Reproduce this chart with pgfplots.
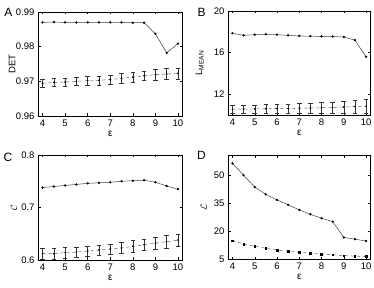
\documentclass[border=0pt]{standalone}
\usepackage{fontspec}
\setmainfont{Liberation Sans}
\usepackage{pgfplots}
\pgfplotsset{compat=1.18}
\begin{document}
\begin{tikzpicture}
\useasboundingbox (0pt,0pt) rectangle (374pt,288pt);
\pgfplotsset{
  every axis/.append style={
    scale only axis, anchor=south west,
    xmin=3.8, xmax=10.2, xtick={4,5,6,7,8,9,10},
    font=\fontsize{9.5}{11}\selectfont,
    /pgf/number format/assume math mode=true,
    tick align=inside, major tick length=2.5pt,
    tick style={black, line width=0.4pt},
    axis line style={line width=0.5pt},
    scaled y ticks=false,
    xlabel={ε},
    xlabel style={at={(axis description cs:0.5,-0.17)}, anchor=center, font=\fontsize{10}{11}\selectfont},
  },
  sol/.style={black!75, line width=0.5pt, mark=*, mark size=0.9pt, mark options={solid, fill=black, draw=black}},
  das/.style={black!70, line width=0.45pt, dashed, mark=*, mark size=0.6pt, mark options={solid, fill=black, draw=black},
    error bars/.cd, y dir=both, y explicit,
    error bar style={solid, black!80, line width=0.4pt},
    error mark options={rotate=90, mark size=2.3pt, black!80, solid, line width=0.4pt}},
}
% Panel A
\begin{axis}[at={(38pt,172pt)}, width=144.5pt, height=104pt,
  ymin=0.96, ymax=0.99, ytick={0.96,0.97,0.98,0.99},
  yticklabel style={/pgf/number format/fixed, /pgf/number format/precision=2, /pgf/number format/fixed zerofill},
  ylabel={DET}, ylabel style={at={(axis description cs:-0.18,0.5)}, anchor=center}]
\addplot[sol] coordinates {(4,0.9870)(4.5,0.9871)(5,0.9870)(5.5,0.9870)(6,0.9870)(6.5,0.9870)(7,0.9870)(7.5,0.9870)(8,0.9869)(8.5,0.9869)(9,0.9837)(9.5,0.9782)(10,0.9809)};
\addplot[das] table[y error=e] {
x y e
4 0.9694 0.0011
4.5 0.9697 0.0011
5 0.9698 0.0012
5.5 0.9700 0.0012
6 0.9702 0.0012
6.5 0.9703 0.0013
7 0.9705 0.0013
7.5 0.9709 0.0014
8 0.9712 0.0014
8.5 0.9716 0.0014
9 0.9719 0.0015
9.5 0.9721 0.0016
10 0.9723 0.0016
};
\end{axis}
% Panel B
\begin{axis}[at={(228pt,173pt)}, width=142.5pt, height=104pt,
  ymin=10, ymax=20, ytick={12,16,20},
  ylabel={L\textsubscript{MEAN}}, ylabel style={at={(axis description cs:-0.2,0.5)}, anchor=center}]
\addplot[sol] coordinates {(4,17.86)(4.5,17.66)(5,17.72)(5.5,17.76)(6,17.72)(6.5,17.66)(7,17.6)(7.5,17.58)(8,17.56)(8.5,17.55)(9,17.5)(9.5,17.2)(10,15.6)};
\addplot[das] table[y error=e] {
x y e
4 10.56 0.35
4.5 10.57 0.37
5 10.58 0.38
5.5 10.6 0.40
6 10.61 0.42
6.5 10.63 0.44
7 10.65 0.46
7.5 10.67 0.48
8 10.7 0.50
8.5 10.73 0.53
9 10.77 0.56
9.5 10.81 0.60
10 10.85 0.65
};
\end{axis}
% Panel C
\begin{axis}[at={(38pt,28pt)}, width=144.5pt, height=105pt,
  ymin=0.6, ymax=0.8, ytick={0.6,0.7,0.8},
  yticklabel style={/pgf/number format/fixed, /pgf/number format/precision=1, /pgf/number format/fixed zerofill},
  ylabel={$\mathcal{C}$}, ylabel style={at={(axis description cs:-0.165,0.5)}, anchor=center}]
\addplot[sol] coordinates {(4,0.738)(4.5,0.740)(5,0.742)(5.5,0.744)(6,0.746)(6.5,0.747)(7,0.748)(7.5,0.750)(8,0.751)(8.5,0.752)(9,0.748)(9.5,0.741)(10,0.735)};
\addplot[das] table[y error=e] {
x y e
4 0.612 0.010
4.5 0.612 0.010
5 0.614 0.010
5.5 0.615 0.010
6 0.617 0.010
6.5 0.619 0.010
7 0.621 0.010
7.5 0.623 0.010
8 0.626 0.011
8.5 0.629 0.011
9 0.632 0.011
9.5 0.635 0.012
10 0.638 0.012
};
\end{axis}
% Panel D
\begin{axis}[at={(228pt,28.5pt)}, width=142.5pt, height=104.5pt,
  ymin=5, ymax=61, ytick={5,20,35,50},
  ylabel={$\mathcal{L}$}, ylabel style={at={(axis description cs:-0.17,0.5)}, anchor=center}]
\addplot[sol] coordinates {(4,56.5)(4.5,50.2)(5,43.8)(5.5,39.9)(6,36.9)(6.5,34.3)(7,31.6)(7.5,29.2)(8,27.1)(8.5,25.3)(9,16.8)(9.5,15.9)(10,14.9)};
\addplot[black!70, line width=0.45pt, dashed, mark=square*, mark size=0.8pt, mark options={solid, fill=black, draw=black}] coordinates {(4,15.1)(4.5,13.3)(5,12.1)(5.5,11.0)(6,10.1)(6.5,9.4)(7,8.9)(7.5,8.4)(8,7.8)(8.5,7.5)(9,7.1)(9.5,6.8)(10,6.6)};
\end{axis}
\node[font=\fontsize{12}{13}\selectfont] at (8.5pt,276pt) {A};
\node[font=\fontsize{12}{13}\selectfont] at (201.5pt,275.5pt) {B};
\node[font=\fontsize{12}{13}\selectfont] at (8pt,131pt) {C};
\node[font=\fontsize{12}{13}\selectfont] at (201.5pt,133pt) {D};
\end{tikzpicture}
\end{document}
